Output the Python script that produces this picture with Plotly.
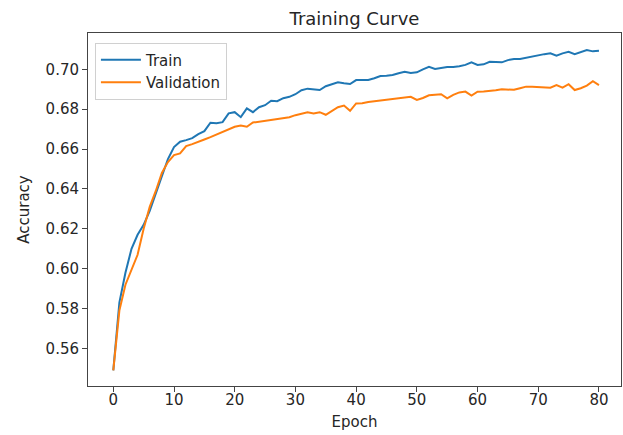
import plotly.graph_objects as go

epochs = list(range(81))

train_acc = [
    0.549, 0.583, 0.598, 0.610, 0.617, 0.622, 0.629, 0.638, 0.647, 0.655,
    0.661, 0.6637, 0.6645, 0.6655, 0.6675, 0.6690, 0.6732, 0.6730, 0.6735, 0.6779,
    0.6785, 0.6760, 0.6804, 0.6785, 0.6810, 0.6820, 0.6842, 0.6840, 0.6855, 0.6862,
    0.6875, 0.6895, 0.6903, 0.6898, 0.6896, 0.6915, 0.6925, 0.6935, 0.6930, 0.6926,
    0.6946, 0.6945, 0.6946, 0.6955, 0.6966, 0.6968, 0.6971, 0.6980, 0.6988, 0.6982,
    0.6985, 0.7000, 0.7012, 0.7002, 0.7006, 0.7012, 0.7012, 0.7015, 0.7022, 0.7035,
    0.7022, 0.7025, 0.7038, 0.7036, 0.7035, 0.7046, 0.7052, 0.7052, 0.7058, 0.7066,
    0.7070, 0.7076, 0.7080, 0.7068, 0.7080, 0.7088, 0.7076, 0.7085, 0.7097, 0.7090,
    0.7093,
]

val_acc = [
    0.549, 0.579, 0.592, 0.600, 0.607, 0.620, 0.631, 0.639, 0.648, 0.6535,
    0.657, 0.6578, 0.6615, 0.6625, 0.6635, 0.6648, 0.6660, 0.6672, 0.6685, 0.6700,
    0.6712, 0.6718, 0.6712, 0.6733, 0.6737, 0.6742, 0.6746, 0.6752, 0.6755, 0.6760,
    0.6770, 0.6776, 0.6784, 0.6778, 0.6785, 0.6772, 0.6790, 0.6810, 0.6818, 0.6792,
    0.6829, 0.6830, 0.6836, 0.6840, 0.6845, 0.6848, 0.6850, 0.6856, 0.6858, 0.6862,
    0.6846, 0.6856, 0.6870, 0.6872, 0.6875, 0.6854, 0.6872, 0.6884, 0.6888, 0.6868,
    0.6888, 0.6889, 0.6891, 0.6895, 0.6900, 0.6898, 0.6897, 0.6905, 0.6913, 0.6913,
    0.6912, 0.6911, 0.6908, 0.6921, 0.6908, 0.6925, 0.6896, 0.6905, 0.6918, 0.6940,
    0.6921,
]

x_ticks = [0, 10, 20, 30, 40, 50, 60, 70, 80]
y_ticks = [0.56, 0.58, 0.60, 0.62, 0.64, 0.66, 0.68, 0.70]

FONT = "DejaVu Sans"
TXT = "#262626"

fig = go.Figure()
fig.add_trace(go.Scatter(x=epochs, y=train_acc, mode="lines", name="Train",
                         line=dict(color="#1f77b4", width=2)))
fig.add_trace(go.Scatter(x=epochs, y=val_acc, mode="lines", name="Validation",
                         line=dict(color="#ff7f0e", width=2)))

fig.update_layout(
    width=623, height=435,
    margin=dict(l=88, r=2, t=33, b=49),
    paper_bgcolor="white", plot_bgcolor="white",
    font=dict(family=FONT, size=15, color=TXT),
    title=dict(text="Training Curve", x=0.5, xref="paper", xanchor="center",
               y=(435 - 19) / 435, yanchor="middle",
               font=dict(family=FONT, size=18, color=TXT)),
    legend=dict(x=0.013, y=0.973, xanchor="left", yanchor="top",
                bgcolor="rgba(255,255,255,0.8)", bordercolor="#d0d0d0", borderwidth=1,
                font=dict(family=FONT, size=15, color=TXT),
                tracegroupgap=2, itemwidth=40),
    showlegend=True,
)

fig.update_xaxes(
    range=[-4.167, 83.63], tickvals=x_ticks, ticktext=[str(v) for v in x_ticks],
    showgrid=False, zeroline=False,
    showline=True, mirror=True, linecolor="#444", linewidth=1,
    ticks="outside", ticklen=5, tickcolor="#444", tickwidth=1,
    ticklabelstandoff=-5,
    title=dict(text="Epoch", standoff=8, font=dict(family=FONT, size=15, color=TXT)),
)
fig.update_yaxes(
    range=[0.5412, 0.7182], tickvals=y_ticks, ticktext=[f"{v:.2f}" for v in y_ticks],
    showgrid=False, zeroline=False,
    showline=True, mirror=True, linecolor="#444", linewidth=1,
    ticks="outside", ticklen=5, tickcolor="#444", tickwidth=1,
    title=dict(text="Accuracy", standoff=12, font=dict(family=FONT, size=15, color=TXT)),
)

fig.write_html("out.html")
